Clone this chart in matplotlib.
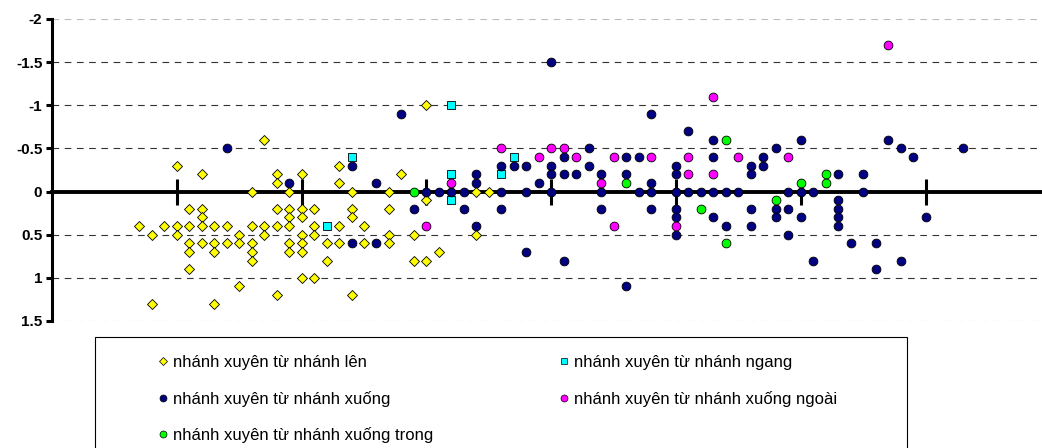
#!/usr/bin/python
# -*- coding: utf-8 -*-

import numpy as np
import matplotlib
matplotlib.use("Agg")
import matplotlib.pyplot as plt
from matplotlib.lines import Line2D
from matplotlib.patches import Rectangle
from matplotlib.ticker import FuncFormatter

#------------------------------Data------------------------
len_x = [7, 8, 8, 9, 10, 10, 10, 11, 11, 11, 11, 11, 12, 12, 12, 12, 12,
         13, 13, 13, 13, 14, 14, 15, 15, 15, 16, 16, 16, 16, 16, 17, 17, 17,
         18, 18, 18, 18, 18, 19, 19, 19, 19, 19, 19, 20, 20, 20, 20, 20, 20, 20,
         21, 21, 21, 21, 22, 22, 23, 23, 23, 23, 24, 24, 24, 24, 25, 25,
         27, 27, 27, 27, 28, 29, 29, 30, 30, 30, 31, 34, 34, 35]
len_y = [0.4, 0.5, 1.3, 0.4, -0.3, 0.4, 0.5, 0.2, 0.4, 0.6, 0.7, 0.9, -0.2, 0.2, 0.3, 0.4, 0.6,
         0.4, 0.6, 0.7, 1.3, 0.4, 0.6, 0.5, 0.6, 1.1, 0, 0.4, 0.6, 0.7, 0.8, -0.6, 0.4, 0.5,
         -0.2, -0.1, 0.2, 0.4, 1.2, 0, 0.2, 0.3, 0.4, 0.6, 0.7, -0.2, 0.2, 0.3, 0.5, 0.6, 0.7, 1.0,
         0.2, 0.4, 0.5, 1.0, 0.6, 0.8, -0.3, -0.1, 0.4, 0.6, 0, 0.2, 0.3, 1.2, 0.4, 0.6,
         0, 0.2, 0.5, 0.6, -0.2, 0.5, 0.8, -1.0, 0.1, 0.8, 0.7, 0, 0.5, 0]

ngang_x = [22, 24, 32, 32, 32, 36, 37]
ngang_y = [0.4, -0.4, -1.0, -0.2, 0.1, -0.2, -0.4]

xuong_x = [14, 19, 24, 24, 26, 26, 28, 29, 30, 31, 32, 33, 33, 34, 34, 34,
           36, 36, 36, 37, 38, 38, 38, 39, 40, 40, 40, 40, 41, 41, 41, 42, 43, 43,
           44, 44, 44, 46, 46, 46, 47, 47, 48, 48, 48, 48,
           50, 50, 50, 50, 50, 50, 51, 51, 52, 53, 53, 53, 53, 54, 54, 55,
           56, 56, 56, 56, 57, 57, 58, 58, 58, 59, 59, 59, 60, 60, 60, 61, 61,
           63, 63, 63, 63, 63, 64, 65, 65, 66, 66, 67, 68, 68, 69, 70, 73]
xuong_y = [-0.5, -0.1, -0.3, 0.6, -0.1, 0.6, -0.9, 0.2, 0, 0, 0, 0, 0.2, -0.2, -0.1, 0.4,
           -0.3, 0, 0.2, -0.3, -0.3, 0, 0.7, -0.1, -1.5, -0.3, -0.2, 0, -0.4, -0.2, 0.8, -0.2, -0.5, -0.3,
           -0.2, 0, 0.2, -0.4, -0.2, 1.1, -0.4, 0, -0.9, -0.1, 0, 0.2,
           -0.3, -0.2, 0, 0.2, 0.3, 0.5, -0.7, 0, 0, -0.6, -0.4, 0, 0.3, 0, 0.4, 0,
           -0.3, -0.2, 0.2, 0.4, -0.4, -0.3, -0.5, 0.2, 0.3, 0, 0.2, 0.5, -0.6, 0, 0.3, 0, 0.8,
           -0.2, 0.1, 0.2, 0.3, 0.4, 0.6, -0.2, 0, 0.6, 0.9, -0.6, -0.5, 0.8, -0.4, 0.3, -0.5]

ngoai_x = [30, 32, 36, 39, 40, 41, 42, 44, 45, 45, 48, 50, 51, 51, 53, 53, 55, 59, 67]
ngoai_y = [0.4, -0.1, -0.5, -0.4, -0.5, -0.5, -0.4, -0.1, -0.4, 0.4, -0.4, 0.4, -0.4, -0.2,
           -1.1, -0.2, -0.4, -0.4, -1.7]

trong_x = [29, 46, 52, 54, 54, 58, 60, 62, 62]
trong_y = [0, -0.1, 0.2, -0.6, 0.6, 0.1, -0.1, -0.2, -0.1]

labels = ["nhánh xuyên từ nhánh lên",
          "nhánh xuyên từ nhánh ngang",
          "nhánh xuyên từ nhánh xuống",
          "nhánh xuyên từ nhánh xuống ngoài",
          "nhánh xuyên từ nhánh xuống trong"]
colors = ["#FFFF00", "#00FFFF", "#000080", "#FF00FF", "#00FF00"]
yticks = [-2, -1.5, -1, -0.5, 0, 0.5, 1, 1.5]
xticks = [10, 20, 30, 40, 50, 60, 70]
#------------------------------------------------------------------------------


def main():
    plt.rcParams.update({
        "font.family": ["Liberation Sans", "DejaVu Sans"],
        })

    W, H = 1042, 448
    fig = plt.figure(figsize=(W / 100, H / 100), dpi=100)
    ax = fig.add_axes([52 / W, 1 - 321 / H, 1 - 52 / W, (321 - 19) / H])

    #--------------------------------Scatter series--------------------------------
    series = [(len_x, len_y, "D", 26), (ngang_x, ngang_y, "s", 36),
              (xuong_x, xuong_y, "o", 40), (ngoai_x, ngoai_y, "o", 40),
              (trong_x, trong_y, "o", 40)]
    for (xs, ys, mk, sz), col in zip(series, colors):
        ax.scatter(xs, ys, marker=mk, s=sz, c=col, edgecolors="black",
                   linewidths=0.6, zorder=3, clip_on=False)

    #--------------------------------Axes styling----------------------------------
    ax.set_xlim(0, (W - 52) / 12.48)
    ax.set_ylim(1.5, -2)

    for y in yticks:
        if y == 0:
            continue
        c = "#bbbbbb" if y in (-2, 1.5) else "#333333"
        ax.axhline(y, color=c, lw=0.8, ls=(0, (6, 5)), zorder=1)

    for s in ["top", "right"]:
        ax.spines[s].set_visible(False)
    ax.spines["left"].set_linewidth(2.2)
    ax.spines["bottom"].set_position(("data", 0))
    ax.spines["bottom"].set_linewidth(2.8)

    ax.set_xticks(xticks)
    ax.tick_params(axis="x", direction="inout", length=19, width=2.2,
                   labelbottom=False)
    ax.set_yticks(yticks)
    ax.yaxis.set_major_formatter(FuncFormatter(lambda v, p: "%g" % v))
    ax.tick_params(axis="y", direction="out", length=4, width=2.2, pad=3,
                   labelsize=11)
    for t in ax.get_yticklabels():
        t.set_fontweight("bold")

    #----------------------------------Legend--------------------------------------
    hmarks = ["D", "s", "o", "o", "o"]
    hsizes = [3.8, 4.6, 5.0, 5.0, 5.0]
    handles = [Line2D([], [], ls="none", marker=m, ms=ms, mfc=c, mec="black",
                      mew=0.5) for m, ms, c in zip(hmarks, hsizes, colors)]
    common = dict(frameon=False, loc="upper left", borderpad=0, fontsize=12,
                  handlelength=0.6, handletextpad=0.3, labelspacing=1.23,
                  borderaxespad=0)
    fig.legend([handles[0], handles[2], handles[4]],
               [labels[0], labels[2], labels[4]],
               bbox_to_anchor=(158 / W, 1 - 355 / H), **common)
    fig.legend([handles[1], handles[3]], [labels[1], labels[3]],
               bbox_to_anchor=(559 / W, 1 - 355 / H), **common)

    fig.patches.append(Rectangle((95 / W, -0.05), (907 - 95) / W,
                                 0.05 + 1 - 337 / H, transform=fig.transFigure,
                                 fill=False, ec="black", lw=0.8))

    fig.savefig("out.png", dpi=100)


if __name__ == "__main__":
    main()
